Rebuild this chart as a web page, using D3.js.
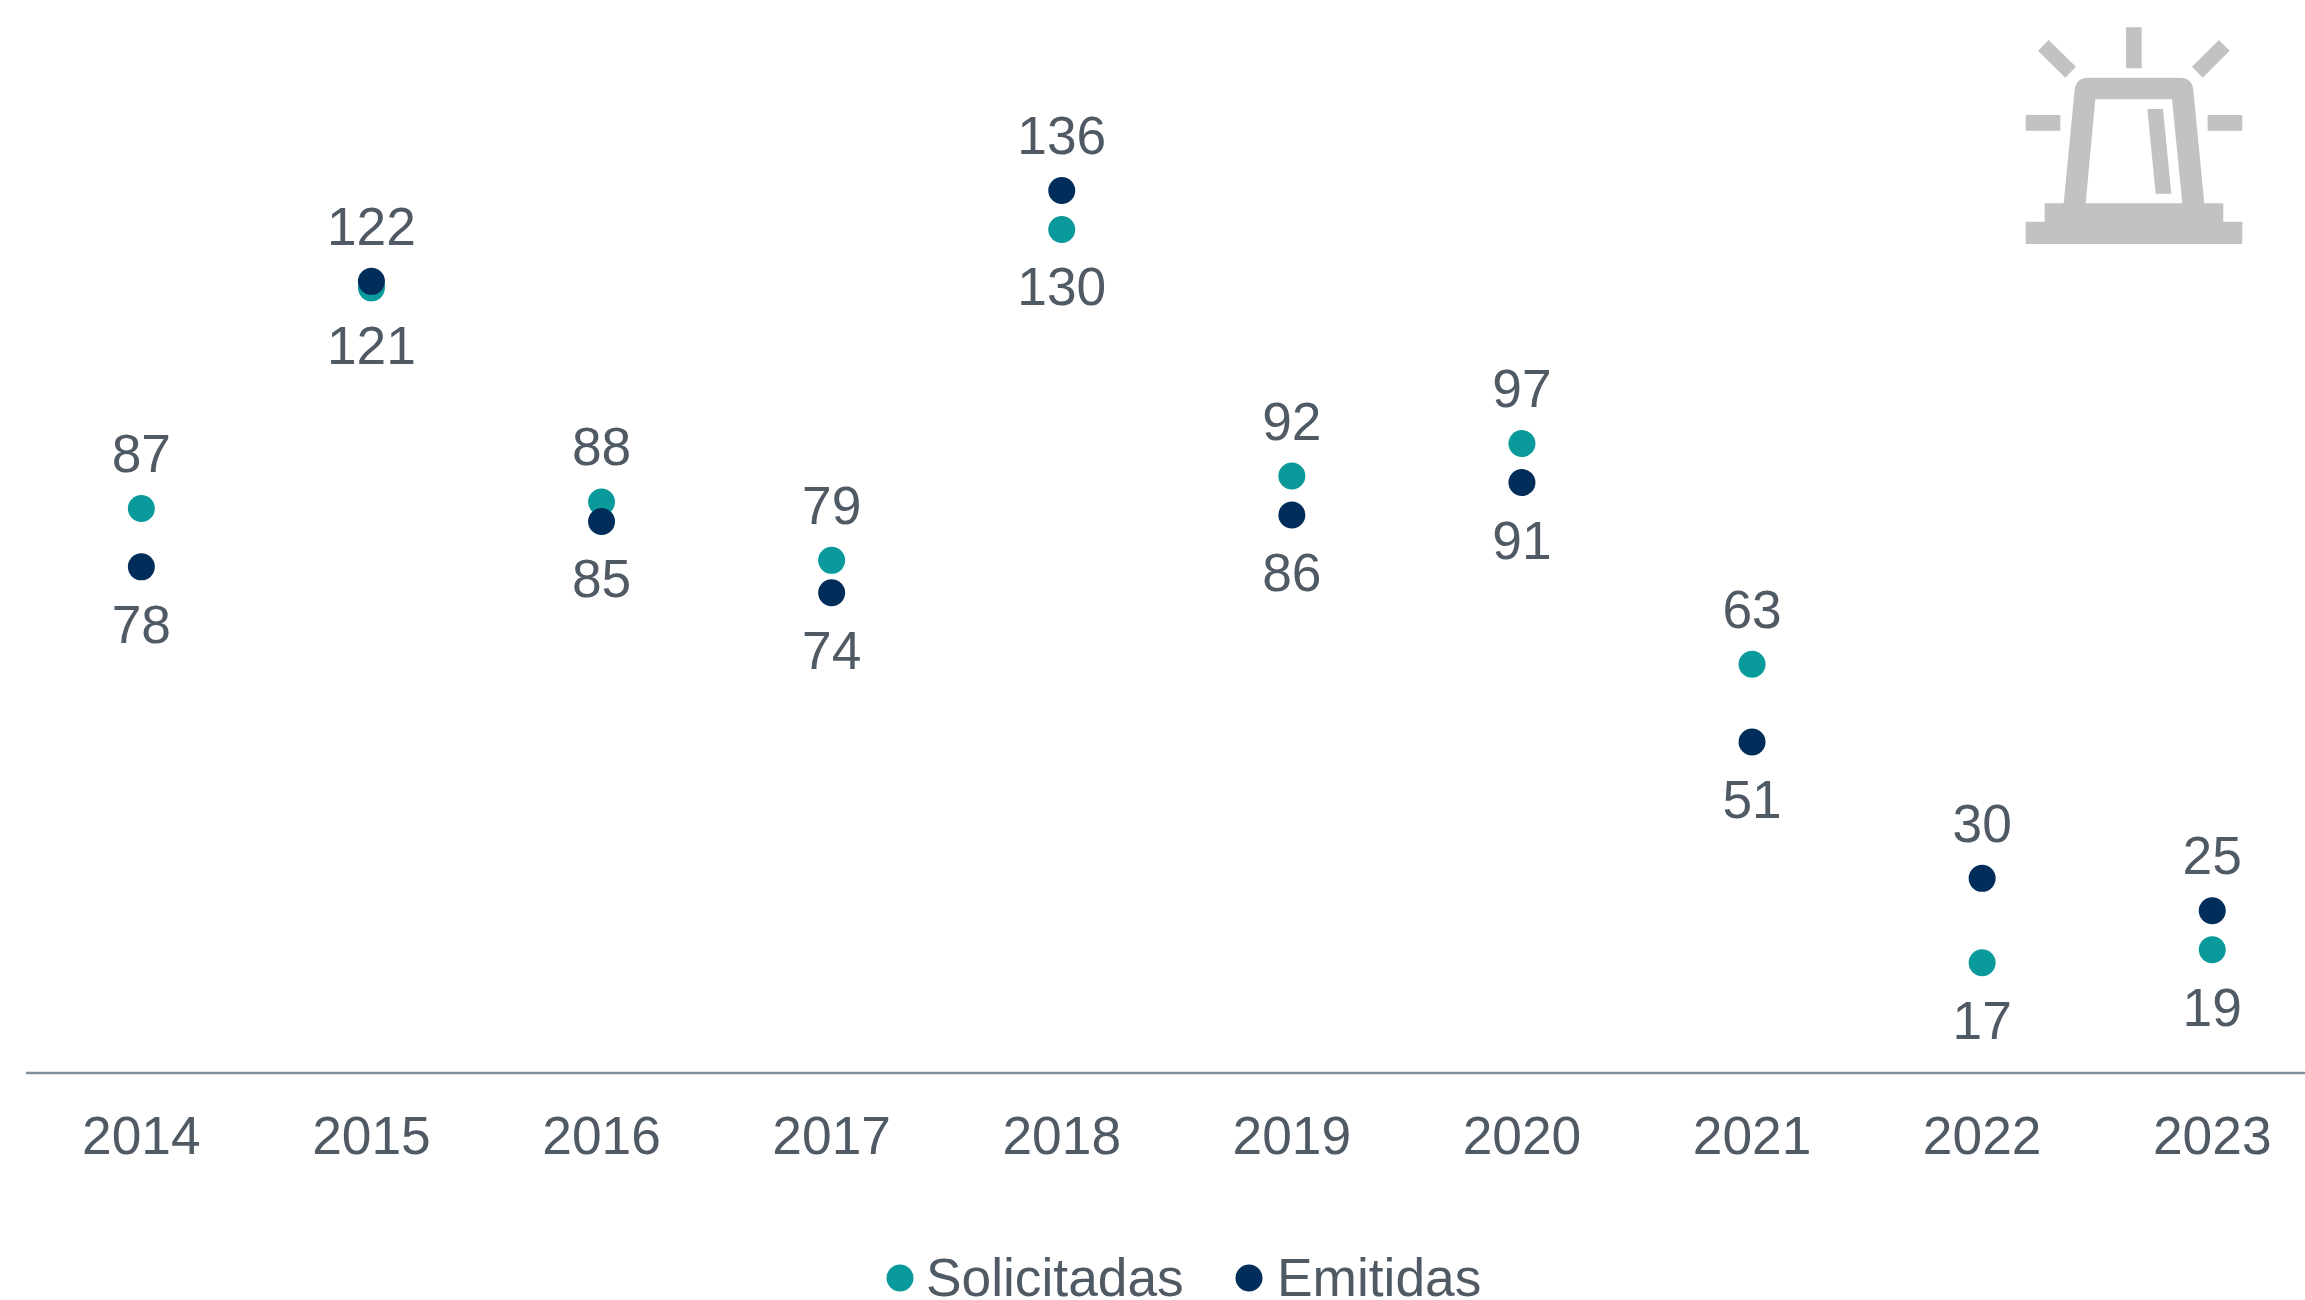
<!DOCTYPE html>
<html><head><meta charset="utf-8">
<script src="https://cdn.jsdelivr.net/npm/d3@7"></script>
<style>html,body{margin:0;padding:0;background:#fff}svg{display:block}text{font-family:"Liberation Sans",Arial,sans-serif;fill:#505a64}</style>
</head><body><svg id="c" width="2305" height="1300"></svg>
<script>
const years=[2014,2015,2016,2017,2018,2019,2020,2021,2022,2023];
const solicitadas=[87,121,88,79,130,92,97,63,17,19];
const emitidas=[78,122,85,74,136,86,91,51,30,25];
const seriesNames=["Solicitadas","Emitidas"];
const seriesColors=["#0a9a9c","#002d5a"];

const svg=d3.select("#c");
const x=d3.scaleBand().domain(years).range([26.3,2327.3]);
const y=d3.scaleLinear().domain([0,136]).range([1073,190.5]);
const cx=d=>x(d)+x.bandwidth()/2;
const R=13.5,FS=53.3;

svg.append("line").attr("x1",26).attr("x2",2305).attr("y1",1073).attr("y2",1073).attr("stroke","#808e9c").attr("stroke-width",2.5);

svg.append("g").selectAll("text").data(years).join("text")
 .attr("x",cx).attr("y",1154).attr("text-anchor","middle").attr("font-size",FS).text(d=>d);

[solicitadas,emitidas].forEach((vals,si)=>{
  const other=si===0?emitidas:solicitadas;
  const g=svg.append("g");
  g.selectAll("circle").data(years).join("circle")
   .attr("cx",cx).attr("cy",(d,i)=>y(vals[i])).attr("r",R).attr("fill",seriesColors[si]);
  g.selectAll("text").data(years).join("text")
   .attr("x",cx).attr("text-anchor","middle").attr("font-size",FS)
   .attr("y",(d,i)=>y(vals[i])+(vals[i]>other[i]?-36.5:76))
   .text((d,i)=>vals[i]);
});

const leg=svg.append("g");
[[900,926],[1249,1277]].forEach((p,i)=>{
  leg.append("circle").attr("cx",p[0]).attr("cy",1278).attr("r",R).attr("fill",seriesColors[i]);
  leg.append("text").attr("x",p[1]).attr("y",1296).attr("font-size",FS).text(seriesNames[i]);
});

const icon=svg.append("g").attr("transform","translate(1980,0) scale(0.3333)").attr("fill","#c2c2c2");
icon.append("path").attr("fill-rule","evenodd").attr("d",
 "M438 82H485V205H438Z M137 345H241V392H137Z M683 345H787V392H683Z "+
 "M206 120L288 200L256 233L174 152Z M717 120L749 152L668 233L636 200Z "+
 "M251 610L284 270Q288 233 325 233L600 233Q636 233 640 270L673 610H730V665H787V732H137V665H194V610Z "+
 "M346 298L576 298L607 610L317 610Z");
icon.append("path").attr("d","M502 327H549L574 581H527Z");
</script></body></html>
